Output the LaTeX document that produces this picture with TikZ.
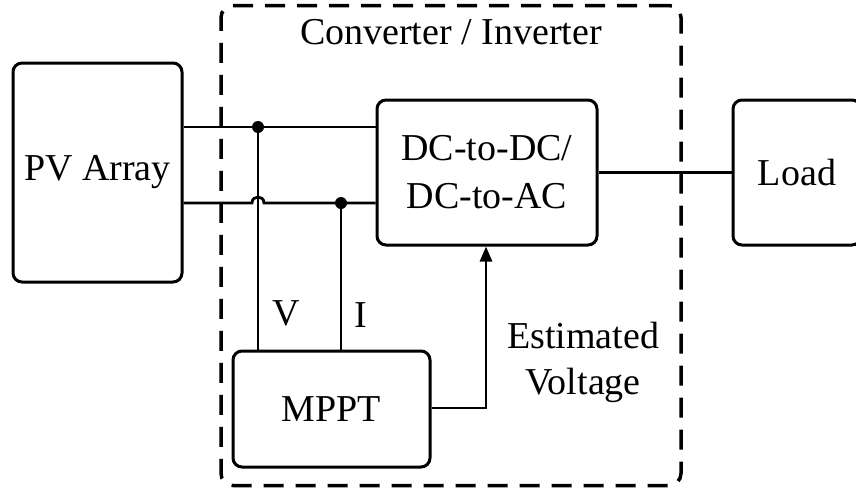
\documentclass[tikz,border=0pt]{standalone}
\usepackage{fontspec}
\setmainfont{Liberation Serif}
\usetikzlibrary{arrows.meta}
\begin{document}
\begin{tikzpicture}[x=1pt,y=-1pt,
  blk/.style={draw,line width=3pt,rounded corners=9pt,inner sep=0pt,align=center,font=\fontsize{38}{48}\selectfont},
  wire/.style={line width=2.8pt},
  dot/.style={circle,fill,inner sep=0pt,minimum size=12pt},
  lbl/.style={font=\fontsize{38}{46}\selectfont,inner sep=0pt,align=center}]
\clip (0,0) rectangle (856,491);
\node[draw,dash pattern=on 20pt off 12pt,line width=3.5pt,rounded corners=12pt,minimum width=460pt,minimum height=480pt] (conv) at (451,245.5) {};
\node[lbl] (title) at (451,32) {Converter / Inverter};
\node[blk,minimum width=169pt,minimum height=219pt] (pv) at (97.5,172.5) {PV Array};
\node[blk,minimum width=220pt,minimum height=145pt] (dc) at (487,172.5) {DC-to-DC/\\DC-to-AC};
\node[blk,minimum width=128pt,minimum height=145pt] (load) at (797,172.5) {Load};
\node[blk,minimum width=197pt,minimum height=116pt] (mppt) at (331.5,409) {MPPT};
\coordinate (jv) at (258,127);
\coordinate (ji) at (341,203);
\coordinate (hopa) at (252,203);
\coordinate (hopb) at (264,203);
\draw[wire] (pv.east |- jv) -- (jv) -- (dc.west |- jv);
\draw[wire] (pv.east |- ji) -- (hopa) .. controls (252,195) and (264,195) .. (hopb) -- (ji) -- (dc.west |- ji);
\draw[wire] (jv) -- (jv |- mppt.north);
\draw[wire] (ji) -- (ji |- mppt.north);
\node[dot] at (jv) {};
\node[dot] at (ji) {};
\draw[wire] (dc.east) -- (load.west);
\coordinate (bend) at (486,408);
\draw[wire,-{Triangle[length=15pt,width=12pt]}] (mppt.east |- bend) -- (bend) -- (bend |- dc.south);
\node[lbl] (vlbl) at (286,313) {V};
\node[lbl] (ilbl) at (361,315) {I};
\node[lbl] (est) at (583,362) {Estimated\\Voltage};
\end{tikzpicture}
\end{document}
